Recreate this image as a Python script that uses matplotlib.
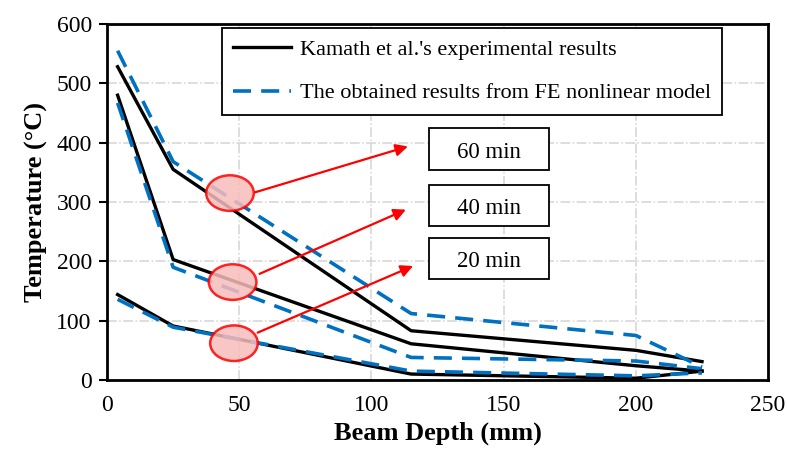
import matplotlib.pyplot as plt
from matplotlib.patches import Ellipse, Rectangle

plt.rcParams['font.family'] = ['Liberation Serif', 'DejaVu Serif']

depth = [4, 25, 115, 200, 225]

exp_60 = [528, 355, 83, 50, 31]
exp_40 = [480, 203, 61, 24, 15]
exp_20 = [144, 91, 10, 3, 15]

fe_60 = [555, 368, 112, 75, 22]
fe_40 = [467, 190, 38, 32, 19]
fe_20 = [136, 89, 15, 7, 12]

labels = ["Kamath et al.'s experimental results",
          "The obtained results from FE nonlinear model"]
times = ['60 min', '40 min', '20 min']

blue = '#0070C0'

fig = plt.figure(figsize=(7.87, 4.57), dpi=100)
ax = fig.add_axes([0.136, 0.1685, 0.84, 0.779])

for i, (e, f) in enumerate([(exp_60, fe_60), (exp_40, fe_40), (exp_20, fe_20)]):
    ax.plot(depth, e, color='black', lw=2.4, zorder=3,
            label=labels[0] if i == 0 else None)
    ax.plot(depth, f, color=blue, lw=2.6, dashes=(5, 2.8), zorder=3,
            label=labels[1] if i == 0 else None)

ax.set_xlim(0, 250)
ax.set_ylim(0, 600)
ax.set_xticks(range(0, 251, 50))
ax.set_yticks(range(0, 601, 100))
ax.grid(True, color='#d4d4d4', ls='-.', lw=1.1)
ax.set_axisbelow(True)
for s in ax.spines.values():
    s.set_linewidth(2.0)
ax.tick_params(axis='y', length=6, width=1.5, labelsize=17, pad=5)
ax.tick_params(axis='x', length=0, labelsize=17, pad=11)
ax.set_xlabel('Beam Depth (mm)', fontsize=19, fontweight='bold', labelpad=4)
ax.set_ylabel('Temperature (°C)', fontsize=19, fontweight='bold', labelpad=6)

# highlighted regions and arrows
ell = [(46.5, 315), (47.5, 165), (48, 62)]
starts = [(55, 315), (56.7, 177), (56, 78)]
ends = [(114.8, 395), (114, 289), (116.7, 194)]
for (cx, cy), s, t in zip(ell, starts, ends):
    ax.add_patch(Ellipse((cx, cy), 18, 60, facecolor='#f8bcbc', alpha=0.85,
                         edgecolor='red', lw=1.8, zorder=4))
    ax.annotate('', xy=t, xytext=s,
                arrowprops=dict(arrowstyle='-|>', color='red', lw=1.6,
                                mutation_scale=18), zorder=5)

box_y = [(354.5, 424), (260, 329), (170, 240)]
for (y0, y1), t in zip(box_y, times):
    ax.add_patch(Rectangle((121.6, y0), 45.6, y1 - y0, facecolor='white',
                           edgecolor='black', lw=1.3, zorder=5))
    ax.text(144.4, (y0 + y1) / 2 - 5, t, ha='center', va='center',
            fontsize=16.5, zorder=6)

leg = ax.legend(loc='upper left', bbox_to_anchor=(0.1735, 0.989),
                fontsize=16, frameon=True, fancybox=False, edgecolor='black',
                handlelength=2.6, labelspacing=1.05, borderpad=0.5,
                handletextpad=0.4, borderaxespad=0)
leg.get_frame().set_linewidth(1.3)
leg.get_frame().set_alpha(1)

plt.savefig('out.png', dpi=100)
